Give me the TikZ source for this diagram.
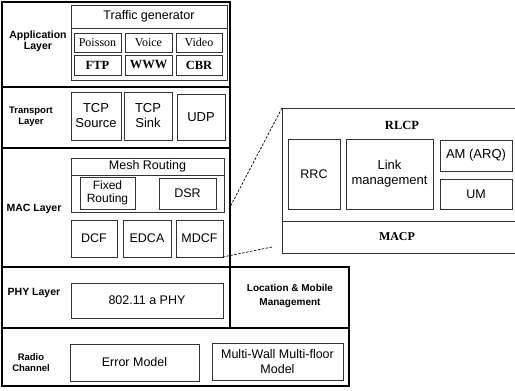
\documentclass[tikz,border=0pt]{standalone}
\usepackage{fontspec}
\setmainfont{Liberation Sans}
\newfontfamily\serifx{Liberation Serif}
\newcommand\mybox[7]{\node[#1, minimum width={#5-#3}, minimum height={#6-#4}] (#2) at ({(#3+#5)/2},{(#4+#6)/2}) {#7};}
\tikzset{
  layer/.style={draw, line width=1.4pt, inner sep=0pt, outer sep=0pt},
  inbox/.style={draw, line width=0.7pt, draw=black!80, inner sep=0pt, outer sep=0pt, align=center},
  lab/.style={font=\fontsize{10.5}{11}\selectfont\bfseries, align=center, inner sep=0pt},
  tx/.style={font=\fontsize{12.5}{13.5}\selectfont},
  sr/.style={font=\serifx\fontsize{12}{13}\selectfont},
  srb/.style={font=\serifx\bfseries\fontsize{12.5}{13}\selectfont},
  zoomline/.style={dashed, dash pattern=on 2.5pt off 1.5pt, line width=0.7pt}
}
\begin{document}
\begin{tikzpicture}[x=1pt,y=-1pt]
\useasboundingbox (0,0) rectangle (515,391);
\clip (0,0) rectangle (515,391);
\fill[white] (0,0) rectangle (515,391);
% layers
\mybox{layer}{app}{2}{2}{230}{87}{}
\mybox{layer}{trans}{2}{87}{230}{148}{}
\mybox{layer}{mac}{2}{148}{230}{267}{}
\mybox{layer}{phy}{2}{267}{230}{328}{}
\mybox{layer}{loc}{230}{267}{349}{328}{}
\mybox{layer}{radio}{2}{328}{349}{386}{}
% labels
\node[lab] (lapp) at (38,41) {Application\\Layer};
\node[lab, font=\fontsize{9.5}{11}\selectfont\bfseries] (ltrans) at (31,117) {Transport\\Layer};
\node[lab] (lmac) at (34,209) {MAC Layer};
\node[lab] (lphy) at (34,293) {PHY Layer};
\node[lab, font=\fontsize{9.5}{11}\selectfont\bfseries] (lradio) at (31,363) {Radio\\Channel};
\node[lab, font=\fontsize{10}{14}\selectfont\bfseries] (lloc) at (290,296) {Location \& Mobile\\Management};
% application
\mybox{inbox}{tgo}{71}{5}{227}{80}{}
\mybox{inbox,tx}{tgh}{71}{5}{227}{28}{Traffic generator}
\mybox{inbox,sr}{poisson}{74}{33}{121}{52}{Poisson}
\mybox{inbox,sr}{voice}{125}{33}{172}{52}{Voice}
\mybox{inbox,sr}{video}{176}{33}{222}{52}{Video}
\mybox{inbox,srb}{ftp}{74}{55}{121}{75}{FTP}
\mybox{inbox,srb}{www}{125}{55}{172}{75}{WWW}
\mybox{inbox,srb}{cbr}{176}{55}{222}{75}{CBR}
% transport
\mybox{inbox,tx,font=\fontsize{13}{15}\selectfont}{tcps}{71}{92}{121}{140}{TCP\\Source}
\mybox{inbox,tx,font=\fontsize{13}{15}\selectfont}{tcpk}{124}{92}{172}{140}{TCP\\Sink}
\mybox{inbox,tx,font=\fontsize{13}{15}\selectfont}{udp}{177}{94}{225}{140}{UDP}
% mac
\mybox{inbox}{mesho}{71}{158}{224}{212}{}
\mybox{inbox,tx}{meshh}{71}{158}{224}{175}{Mesh Routing}
\mybox{inbox,font=\fontsize{12}{13}\selectfont}{fixed}{80}{177}{135}{209}{Fixed\\Routing}
\mybox{inbox,tx}{dsr}{159}{178}{216}{209}{DSR}
\mybox{inbox,tx}{dcf}{71}{220}{117}{257}{DCF}
\mybox{inbox,tx}{edca}{123}{220}{171}{257}{EDCA}
\mybox{inbox,tx}{mdcf}{176}{220}{223}{257}{MDCF}
% phy
\mybox{inbox,tx}{phy80}{71}{283}{223}{318}{802.11 a PHY}
% radio
\mybox{inbox,tx}{err}{70}{344}{199}{381}{Error Model}
\mybox{inbox,tx,font=\fontsize{12.5}{15}\selectfont}{mwmf}{212}{343}{343}{380}{Multi-Wall Multi-floor\\Model}
% zoomed detail
\mybox{inbox}{rlcp}{282}{108}{530}{253}{}
\mybox{inbox}{macp}{282}{221}{530}{253}{}
\node[srb] (rlcpl) at (402,125) {RLCP};
\node[srb, font=\serifx\bfseries\fontsize{12}{13}\selectfont] (macpl) at (397,237) {MACP};
\mybox{inbox,tx}{rrc}{288}{139}{340}{209}{RRC}
\mybox{inbox,font=\fontsize{13}{15}\selectfont}{link}{346}{139}{433}{209}{Link\\management}
\mybox{inbox,font=\fontsize{13}{14}\selectfont}{am}{440}{140}{512}{171}{AM (ARQ)}
\mybox{inbox,tx}{um}{440}{179}{512}{209}{UM}
% zoom lines
\coordinate (zt) at (229,209);
\coordinate (zb) at (272,247);
\draw[zoomline] (rlcp.north west) -- (zt);
\draw[zoomline] (zb) -- (mdcf.south east);
\end{tikzpicture}
\end{document}
